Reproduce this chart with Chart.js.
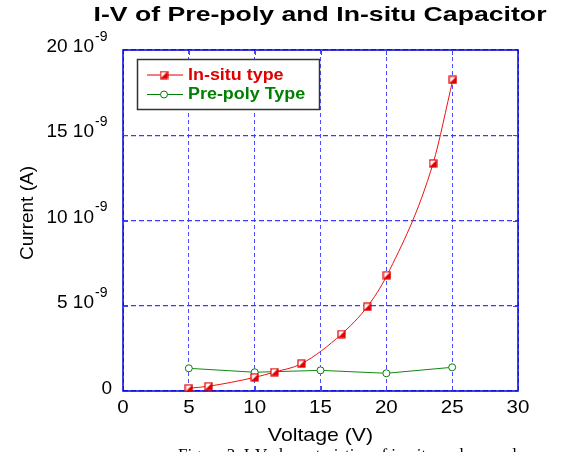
<!DOCTYPE html>
<html>
<head>
<meta charset="utf-8">
<script src="https://cdn.jsdelivr.net/npm/chart.js@4.4.1/dist/chart.umd.min.js"></script>
<style>
  body { margin: 0; background: #fff; }
  canvas { display: block; }
</style>
</head>
<body>
<canvas id="ivChart" width="566" height="452"></canvas>
<script>
// values (current in units of 1e-9 A)
const insituVoltage = [5, 6.5, 10, 11.5, 13.55, 16.6, 18.55, 20.05, 23.55, 25.05];
const insituCurrent = [0.16, 0.28, 0.8, 1.11, 1.6, 3.34, 4.94, 6.79, 13.35, 18.25];
const prepolyVoltage = [5, 10, 15, 20, 25];
const prepolyCurrent = [1.33, 1.10, 1.21, 1.04, 1.39];
const xTickValues = [0, 5, 10, 15, 20, 25, 30];
const yTickValues = [0, 5, 10, 15, 20];
const seriesNames = ['In-situ type', 'Pre-poly Type'];

const FONT = '"Liberation Sans", Arial, Helvetica, sans-serif';

// half filled square marker
function makeSquareMarker() {
    const c = document.createElement('canvas');
    c.width = 9; c.height = 9;
    const g = c.getContext('2d');
    g.fillStyle = '#fff';
    g.fillRect(1, 1, 7, 7);
    g.fillStyle = '#e00000';
    g.beginPath();
    g.moveTo(8, 1); g.lineTo(8, 8); g.lineTo(1, 8);
    g.closePath();
    g.fill();
    g.strokeStyle = '#e00000';
    g.lineWidth = 1.2;
    g.strokeRect(1, 1, 7, 7);
    return c;
}
const squareMarker = makeSquareMarker();

const insituPoints = insituVoltage.map((v, i) => ({ x: v, y: insituCurrent[i] }));
const prepolyPoints = prepolyVoltage.map((v, i) => ({ x: v, y: prepolyCurrent[i] }));

// text drawn a little wider than the installed font, like the original
function wideText(ctx, text, x, y, sx, align) {
    ctx.save();
    ctx.translate(x, y);
    ctx.scale(sx, 1);
    ctx.textAlign = align;
    ctx.fillText(text, 0, 0);
    ctx.restore();
}

const decorations = {
    id: 'decorations',
    beforeDatasetsDraw(chart) {
        const ctx = chart.ctx;
        const a = chart.chartArea;
        const xs = chart.scales.x, ys = chart.scales.y;
        ctx.save();
        ctx.strokeStyle = '#0000dd';
        ctx.lineWidth = 1.5;
        ctx.strokeRect(a.left, a.top, a.right - a.left, a.bottom - a.top);
        ctx.lineWidth = 1;
        ctx.strokeStyle = '#4444ee';
        ctx.beginPath();
        xTickValues.slice(1, -1).forEach(v => {
            const px = Math.round(xs.getPixelForValue(v)) + 0.5;
            ctx.moveTo(px, a.top); ctx.lineTo(px, a.top + 5);
            ctx.moveTo(px, a.bottom); ctx.lineTo(px, a.bottom - 5);
        });
        yTickValues.slice(1, -1).forEach(v => {
            const py = Math.round(ys.getPixelForValue(v)) + 0.5;
            ctx.moveTo(a.left, py); ctx.lineTo(a.left + 5, py);
            ctx.moveTo(a.right, py); ctx.lineTo(a.right - 5, py);
        });
        ctx.stroke();
        ctx.restore();
    },
    afterDraw(chart) {
        const ctx = chart.ctx;
        const a = chart.chartArea;
        const xs = chart.scales.x, ys = chart.scales.y;
        ctx.save();
        ctx.fillStyle = '#000';
        ctx.textBaseline = 'middle';

        // title
        ctx.font = 'bold 21px ' + FONT;
        const tw = ctx.measureText('I-V of Pre-poly and In-situ Capacitor').width;
        wideText(ctx, 'I-V of Pre-poly and In-situ Capacitor', 320, 15, 453 / tw, 'center');

        // x tick labels
        ctx.font = '19px ' + FONT;
        xTickValues.forEach(v => {
            wideText(ctx, String(v), xs.getPixelForValue(v), 408, 1.08, 'center');
        });
        // x title
        wideText(ctx, 'Voltage (V)', (a.left + a.right) / 2, 436, 1.12, 'center');

        // y tick labels with 10^-9 exponent
        const right = 112;
        yTickValues.forEach(v => {
            const py = ys.getPixelForValue(v);
            if (v === 0) {
                ctx.textAlign = 'right';
                ctx.font = '19px ' + FONT;
                ctx.fillText('0', right, py - 2);
                return;
            }
            ctx.font = '19px ' + FONT;
            ctx.textAlign = 'right';
            ctx.fillText(v + ' 10', right - 18, py - 3);
            ctx.font = '14px ' + FONT;
            ctx.textAlign = 'left';
            ctx.fillText('-9', right - 17, py - 13);
        });

        // y title
        ctx.save();
        ctx.translate(28, 213);
        ctx.rotate(-Math.PI / 2);
        ctx.textAlign = 'center';
        ctx.font = '19px ' + FONT;
        ctx.fillText('Current (A)', 0, 0);
        ctx.restore();

        // legend box
        ctx.fillStyle = '#fff';
        ctx.fillRect(137.5, 59.5, 182, 50);
        ctx.strokeStyle = '#333';
        ctx.lineWidth = 1.5;
        ctx.strokeRect(137.5, 59.5, 182, 50);
        const rows = [
            { y: 75, color: '#e00000', text: seriesNames[0], square: true },
            { y: 94.5, color: '#008000', text: seriesNames[1], square: false }
        ];
        rows.forEach(r => {
            ctx.strokeStyle = r.color;
            ctx.lineWidth = 1;
            ctx.beginPath();
            ctx.moveTo(147, r.y); ctx.lineTo(183, r.y);
            ctx.stroke();
            if (r.square) {
                ctx.drawImage(squareMarker, 164 - 4.5, r.y - 4.5);
            } else {
                ctx.fillStyle = '#fff';
                ctx.beginPath();
                ctx.arc(164, r.y, 3.5, 0, Math.PI * 2);
                ctx.fill();
                ctx.stroke();
            }
            ctx.fillStyle = r.color;
            ctx.font = 'bold 16px ' + FONT;
            wideText(ctx, r.text, 188, r.y + 0.5, 1.12, 'left');
        });

        // figure caption, cut off by the bottom edge
        ctx.fillStyle = '#000';
        ctx.font = '17px "Liberation Serif", "Times New Roman", serif';
        ctx.textAlign = 'left';
        ctx.textBaseline = 'top';
        ctx.fillText('Figure 3. I-V characteristics of in-situ and pre-poly capacitor', 178, 447);
        ctx.restore();
    }
};

const ctx = document.getElementById('ivChart').getContext('2d');
new Chart(ctx, {
    type: 'line',
    data: {
        datasets: [{
            label: seriesNames[0],
            data: insituPoints,
            borderColor: '#ee1111',
            borderWidth: 1,
            pointStyle: squareMarker,
            cubicInterpolationMode: 'monotone',
            fill: false
        }, {
            label: seriesNames[1],
            data: prepolyPoints,
            borderColor: '#118811',
            borderWidth: 1,
            pointStyle: 'circle',
            pointRadius: 3.5,
            pointBackgroundColor: '#fff',
            pointBorderColor: '#008000',
            pointBorderWidth: 1,
            tension: 0,
            fill: false
        }]
    },
    options: {
        responsive: false,
        animation: false,
        layout: { padding: { left: 123, right: 48, top: 50, bottom: 61 } },
        plugins: {
            legend: { display: false },
            tooltip: { enabled: false },
            title: { display: false }
        },
        scales: {
            x: {
                type: 'linear',
                min: 0,
                max: 30,
                ticks: { display: false, stepSize: 5 },
                grid: { color: '#4d4dff', lineWidth: 1, drawTicks: false },
                border: { display: false, dash: [4, 3] }
            },
            y: {
                type: 'linear',
                min: 0,
                max: 20,
                ticks: { display: false, stepSize: 5 },
                grid: { color: '#3a3aff', lineWidth: 1.3, drawTicks: false },
                border: { display: false, dash: [5, 3] }
            }
        }
    },
    plugins: [decorations]
});
</script>
</body>
</html>
